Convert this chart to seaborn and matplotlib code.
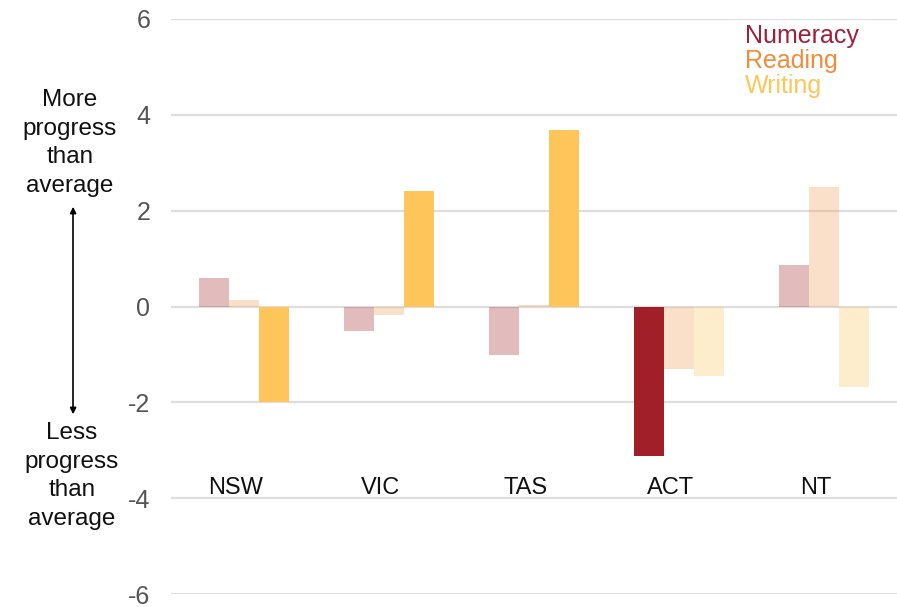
import pandas as pd
import seaborn as sns
import matplotlib.pyplot as plt

states = ["NSW", "VIC", "TAS", "ACT", "NT"]
subjects = ["Numeracy", "Reading", "Writing"]
numeracy = [0.60, -0.52, -1.02, -3.13, 0.86]
reading = [0.13, -0.17, 0.03, -1.30, 2.49]
writing = [-2.00, 2.41, 3.69, -1.44, -1.69]
# which bars are drawn at full strength (others are faded)
highlight_numeracy = [False, False, False, True, False]
highlight_reading = [False, False, False, False, False]
highlight_writing = [True, True, True, False, False]

colors = ["#a11f26", "#f29a4e", "#fec55a"]
legend_colors = ["#a11f3a", "#f28c3a", "#fec55a"]

df = pd.DataFrame({
    "state": states * 3,
    "subject": [s for s in subjects for _ in states],
    "value": numeracy + reading + writing,
})
highlights = [highlight_numeracy, highlight_reading, highlight_writing]

sns.set_style("white")
plt.rcParams["font.family"] = ["Liberation Sans", "DejaVu Sans"]
plt.rcParams["axes.unicode_minus"] = False

fig = plt.figure(figsize=(8.97, 6.07), dpi=100)
ax = fig.add_axes([0.191, 0.0214, 0.809, 0.9473])

sns.barplot(data=df, x="state", y="value", hue="subject", hue_order=subjects,
            order=states, palette=colors, width=0.62, gap=0, saturation=1,
            legend=False, ax=ax, linewidth=0)

for cont, hl in zip(ax.containers, highlights):
    for bar, on in zip(cont, hl):
        bar.set_alpha(1.0 if on else 0.3)

ax.set_ylim(-6, 6)
ax.set_xlim(-0.5, 4.5)
ax.set_yticks([-6, -4, -2, 0, 2, 4, 6])
ax.yaxis.grid(True, color="#dedede", linewidth=1.6)
ax.set_axisbelow(True)
for s in ax.spines.values():
    s.set_visible(False)
ax.tick_params(axis="y", length=0, pad=15, labelsize=18, labelcolor="#555555")
ax.set_xticks([])
ax.set_xlabel("")
ax.set_ylabel("")

# state labels sit inside the plot
for i, st in enumerate(states):
    ax.text(i - 0.06, -3.78, st, ha="center", va="center", fontsize=17, color="#111111")

# legend as coloured text
for j, (name, c) in enumerate(zip(subjects, legend_colors)):
    fig.text(0.830, 1 - (36 + 25 * j) / 607, name, color=c, fontsize=18,
             ha="left", va="center")

fig.text(0.078, 1 - 143 / 607, "More\nprogress\nthan\naverage", ha="center",
         va="center", fontsize=17.5, linespacing=1.38, color="#111111")
fig.text(0.080, 1 - 476 / 607, "Less\nprogress\nthan\naverage", ha="center",
         va="center", fontsize=17.5, linespacing=1.38, color="#111111")
fig.add_artist(plt.Line2D([0.0815, 0.0815], [1 - 212 / 607, 1 - 410 / 607],
                          color="black", linewidth=1.2))
ax.annotate("", xy=(0.0815, 1 - 204 / 607), xytext=(0.0815, 1 - 215 / 607),
            xycoords="figure fraction",
            arrowprops=dict(arrowstyle="-|>", color="black", lw=1.2,
                            mutation_scale=9))
ax.annotate("", xy=(0.0815, 1 - 417 / 607), xytext=(0.0815, 1 - 406 / 607),
            xycoords="figure fraction",
            arrowprops=dict(arrowstyle="-|>", color="black", lw=1.2,
                            mutation_scale=9))

fig.savefig("out.png", dpi=100)
